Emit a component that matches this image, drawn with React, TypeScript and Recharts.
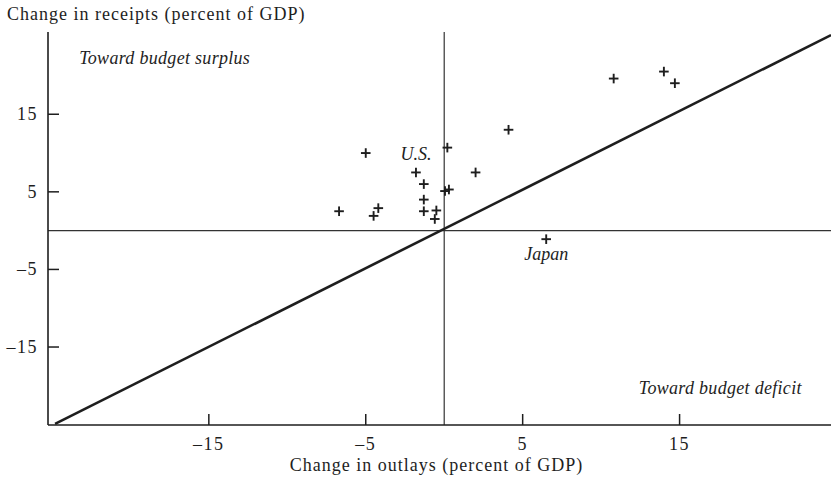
import {
  Label,
  ReferenceDot,
  ReferenceLine,
  Scatter,
  ScatterChart,
  XAxis,
  YAxis,
} from "recharts";

// change in outlays / receipts, percent of GDP
const outlays = [-6.7, -5.0, -4.5, -4.2, -1.8, -1.3, -1.3, -1.3, -0.5, -0.6, 0.05, 0.3, 0.2, 2.0, 4.1, 6.5, 10.8, 14.0, 14.7];
const receipts = [2.5, 10.0, 1.9, 2.9, 7.5, 6.0, 4.0, 2.5, 2.6, 1.5, 5.1, 5.3, 10.7, 7.5, 13.0, -1.1, 19.6, 20.5, 19.0];
const names = ["", "", "", "", "U.S.", "", "", "", "", "", "", "", "", "", "", "Japan", "", "", ""];
const diagX = [-24.8, 24.65];
const diagY = [-24.9, 25.2];
const xTicks = [-15, -5, 5, 15];
const yTicks = [-15, -5, 5, 15];
const X_DOMAIN: [number, number] = [-25.25, 24.65];
const Y_DOMAIN: [number, number] = [-25.05, 25.6];

const points = outlays.map((x, i) => ({ x, y: receipts[i], name: names[i] }));
const diagonal = diagX.map((x, i) => ({ x, y: diagY[i] }));

const SERIF = "'Liberation Serif', 'Times New Roman', serif";
const INK = "#1e1e1e";
const LABEL_DY: Record<string, number> = { "U.S.": -12, Japan: 21 };

const fmt = (v: number) => (v < 0 ? `\u2013${Math.abs(v)}` : String(v));

// label plus an inward tick mark drawn from the axis line
const YTick = ({ x, y, payload }: any) => (
  <g>
    <path d={`M${x + 10},${y}h11`} stroke={INK} strokeWidth={1.5} fill="none" />
    <text x={x} y={y + 6} textAnchor="end" fontFamily={SERIF} fontSize={18} letterSpacing={1.5} fill={INK}>
      {fmt(payload.value)}
    </text>
  </g>
);

const XTick = ({ x, y, payload }: any) => (
  <g>
    <path d={`M${x},${y - 10}v-11`} stroke={INK} strokeWidth={1.5} fill="none" />
    <text x={x} y={y + 15} textAnchor="middle" fontFamily={SERIF} fontSize={18} letterSpacing={1.5} fill={INK}>
      {fmt(payload.value)}
    </text>
  </g>
);

const Cross = ({ cx, cy, payload }: any) => (
  <g>
    <line x1={cx - 4.8} x2={cx + 4.8} y1={cy} y2={cy} stroke={INK} strokeWidth={1.9} />
    <line x1={cx} x2={cx} y1={cy - 4.8} y2={cy + 4.8} stroke={INK} strokeWidth={1.9} />
    {payload?.name ? (
      <text
        x={cx}
        y={cy + (LABEL_DY[payload.name] ?? -12)}
        textAnchor="middle"
        fontFamily={SERIF}
        fontStyle="italic"
        fontSize={18}
        fill={INK}
      >
        {payload.name}
      </text>
    ) : null}
  </g>
);

const note = (text: string, anchor: "start" | "end") => (props: any) => {
  const vb = props.viewBox;
  return (
    <text
      x={vb.x}
      y={vb.y}
      textAnchor={anchor}
      fontFamily={SERIF}
      fontStyle="italic"
      fontSize={18}
      letterSpacing={0.3}
      fill={INK}
    >
      {text}
    </text>
  );
};

export default function App() {
  return (
    <div style={{ position: "absolute", left: 0, top: 0, background: "#fff" }}>
      <ScatterChart width={831} height={490} margin={{ top: 32, right: 0, bottom: 0, left: 0 }}>
        <XAxis
          type="number"
          dataKey="x"
          domain={X_DOMAIN}
          allowDataOverflow
          ticks={xTicks}
          height={65}
          tickSize={0}
          tickMargin={10}
          tickLine={false}
          tick={<XTick />}
          axisLine={{ stroke: INK, strokeWidth: 1.6 }}
        >
          <Label
            content={({ viewBox }: any) => (
              <text
                x={viewBox.x + viewBox.width / 2 - 3}
                y={viewBox.y + 46}
                textAnchor="middle"
                fontFamily={SERIF}
                fontSize={18}
                letterSpacing={1}
                fill={INK}
              >
                Change in outlays (percent of GDP)
              </text>
            )}
          />
        </XAxis>
        <XAxis
          xAxisId="top"
          orientation="top"
          type="number"
          domain={X_DOMAIN}
          allowDataOverflow
          height={0}
          tick={false}
          tickLine={false}
          axisLine={{ stroke: INK, strokeWidth: 1.6 }}
        />
        <YAxis
          type="number"
          dataKey="y"
          domain={Y_DOMAIN}
          allowDataOverflow
          ticks={yTicks}
          width={48}
          tickSize={0}
          tickMargin={10}
          tickLine={false}
          tick={<YTick />}
          axisLine={{ stroke: INK, strokeWidth: 1.6 }}
        >
          <Label
            content={({ viewBox }: any) => (
              <text
                x={viewBox.x + 7}
                y={viewBox.y - 12}
                fontFamily={SERIF}
                fontSize={18}
                letterSpacing={1}
                fill={INK}
              >
                Change in receipts (percent of GDP)
              </text>
            )}
          />
        </YAxis>
        <ReferenceLine x={0} stroke="#333" strokeWidth={1.2} />
        <ReferenceLine y={0} stroke="#333" strokeWidth={1.2} />
        <ReferenceDot
          x={-23.2}
          y={21.3}
          r={1}
          fill="none"
          stroke="none"
          label={note("Toward budget surplus", "start")}
        />
        <ReferenceDot
          x={22.85}
          y={-21.2}
          r={1}
          fill="none"
          stroke="none"
          label={note("Toward budget deficit", "end")}
        />
        <Scatter
          data={diagonal}
          line={{ stroke: INK, strokeWidth: 2.6 }}
          shape={() => <g />}
          isAnimationActive={false}
        />
        <Scatter data={points} shape={<Cross />} isAnimationActive={false} />
      </ScatterChart>
    </div>
  );
}
